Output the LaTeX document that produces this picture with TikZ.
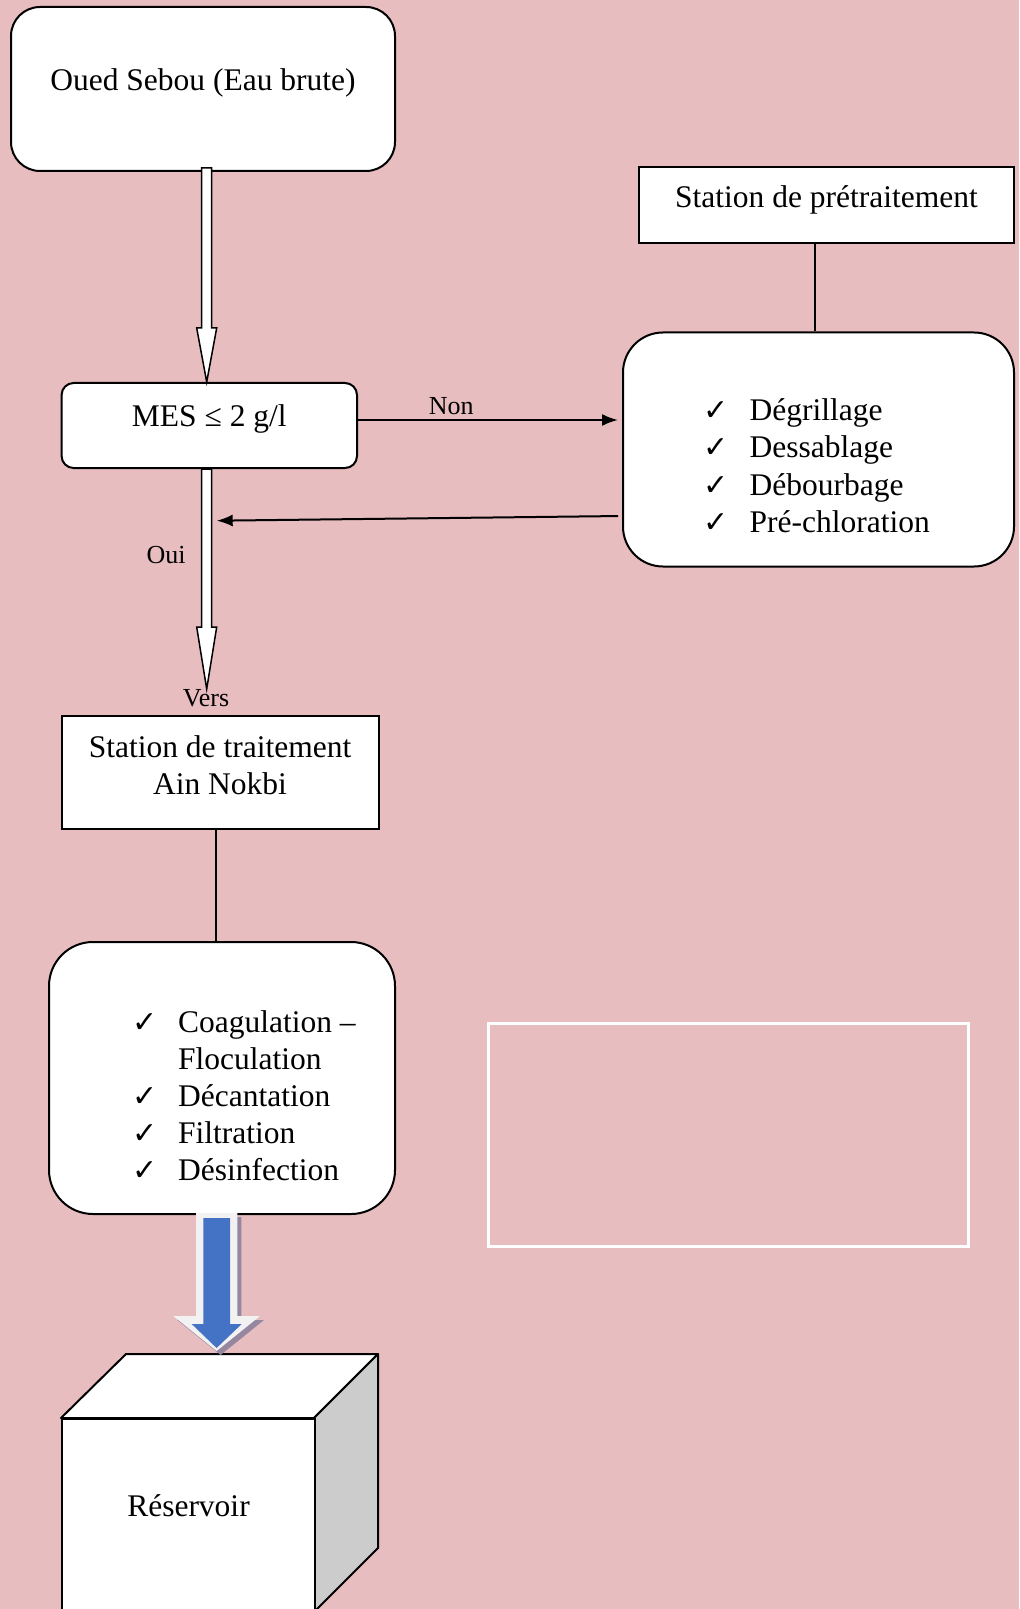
\documentclass[tikz,border=0pt]{standalone}
\usepackage{fontspec}
\setmainfont{Liberation Serif}
\newfontfamily\symfont{DejaVu Sans}
\usetikzlibrary{calc,arrows.meta}
\definecolor{bgpink}{RGB}{232,189,191}
\definecolor{arrowblue}{RGB}{68,114,196}
\definecolor{rimwhite}{RGB}{242,242,242}
\definecolor{shadowc}{RGB}{150,135,160}
\definecolor{sidegray}{RGB}{204,204,204}
\newcommand{\mainsz}{\fontsize{15.75}{18.5}\selectfont}
\newcommand{\smallsz}{\fontsize{13}{15}\selectfont}
\newcommand{\ck}{\makebox[23pt][l]{\symfont\fontsize{15}{15}\selectfont ✓}}
\newcommand{\nock}{\makebox[23pt][l]{}}
\newcommand{\hollowdown}[3]{%
  \path[hollow] let \p1=(#1), \p2=(#2) in
   (\x1-2.5pt,\y1) -- (\x1-2.5pt,\y2+#3) -- (\x1-5pt,\y2+#3) -- (\x1,\y2) --
   (\x1+5pt,\y2+#3) -- (\x1+2.5pt,\y2+#3) -- (\x1+2.5pt,\y1) -- cycle;}
\begin{document}
\begin{tikzpicture}[x=0.5pt,y=-0.5pt,
  every node/.style={font=\mainsz, text=black},
  box/.style={draw=black, fill=white, line width=1pt, inner sep=0pt},
  hollow/.style={draw=black, fill=white, line width=0.75pt, line join=miter},
  conn/.style={draw=black, line width=1pt},
  arr/.style={conn, -{Latex[length=8pt,width=6pt]}},
  smalllabel/.style={font=\smallsz, inner sep=0pt},
  listnode/.style={anchor=base west, inner sep=0pt},
  cubeline/.style={draw=black, line width=1pt, line join=round}]
\useasboundingbox (0,0) rectangle (1019,1609);
\fill[bgpink] (0,0) rectangle (1019,1609);
\clip (0,0) rectangle (1019,1609);

% empty frame
\draw[white, line width=1.5pt] (488.3,1023.3) rectangle (968.3,1246.7);

% helper x positions
\coordinate (ax) at (206.7,0);
\coordinate (lx) at (815,0);
\coordinate (sx) at (215.5,0);
\coordinate (bx) at (216.6,0);

% nodes
\node[box, rounded corners=14.5pt, minimum width=192pt, minimum height=82pt,
  label={[yshift=3pt]center:Oued Sebou (Eau brute)}] (oued) at (203,89) {};
\node[box, rounded corners=6pt, minimum width=147.7pt, minimum height=42.5pt,
  label={[yshift=3.5pt]center:MES ≤ 2 g/l}] (mes) at (209.3,425.5) {};
\node[box, minimum width=158.5pt, minimum height=56.5pt,
  label={[yshift=3.5pt, align=center]center:Station de traitement\\Ain Nokbi}] (st) at (220,772.5) {};
\node[box, rounded corners=22pt, minimum width=173pt, minimum height=136pt] (trt) at (222,1078) {};
\node[listnode] (trtlist) at (131.7,1032) {\begin{tabular}[t]{@{}l@{}}
\ck Coagulation –\\
\nock Floculation\\
\ck Décantation\\
\ck Filtration\\
\ck Désinfection
\end{tabular}};
\node[box, minimum width=187.5pt, minimum height=38pt,
  label={[yshift=2.5pt]center:Station de prétraitement}] (pre) at (826.5,205) {};
\node[box, rounded corners=20pt, minimum width=195.5pt, minimum height=117pt] (pbox) at (818.5,449.5) {};
\node[listnode] (plist) at (703.3,421) {\begin{tabular}[t]{@{}l@{}}
\ck Dégrillage\\
\ck Dessablage\\
\ck Débourbage\\
\ck Pré-chloration
\end{tabular}};

% connectors
\draw[conn] (pre.south -| lx) -- (pbox.north -| lx);
\draw[conn] (st.south -| sx) -- (trt.north -| sx);
\draw[arr, shorten >=2pt] (mes.east |- 0,420) -- (pbox.west |- 0,420)
  node[pos=0.353, smalllabel, yshift=7pt] (non) {Non};
\draw[arr, shorten <=2pt] (pbox.west |- 0,516) -- ($(ax)+(10,520.7)$);
\hollowdown{$(oued.south -| ax)+(0,-4)$}{mes.north -| ax}{27pt}
\hollowdown{mes.south -| ax}{$(st.north -| ax)+(0,-26)$}{31pt}
\node[smalllabel] (oui) at (166,555) {Oui};
\node[smalllabel] (vers) at (206,698) {Vers};

% cube (reservoir)
\filldraw[cubeline, fill=white] (126,1354) -- (378,1354) -- (314,1418) -- (61,1418) -- cycle;
\filldraw[cubeline, fill=sidegray] (314,1418) -- (378,1354) -- (378,1548) -- (314,1612) -- cycle;
\node[box, anchor=north west, minimum width=126.5pt, minimum height=97pt,
  label={[yshift=5pt]center:Réservoir}] (res) at (61,1418) {};

% blue block arrow
\begin{scope}[shift={(trt.south -| bx)}]
  \fill[shadowc] (-16.6,2) -- (24.7,2) -- (24.7,105) -- (47.4,105) -- (4,140) -- (-39.3,105) -- (-16.6,105) -- cycle;
  \fill[rimwhite] (-20.6,-2) -- (20.7,-2) -- (20.7,101) -- (43.4,101) -- (0,136) -- (-43.3,101) -- (-20.6,101) -- cycle;
  \fill[arrowblue] (-13.3,3) -- (13.4,3) -- (13.4,109) -- (25.1,109) -- (0,133) -- (-24.9,109) -- (-13.3,109) -- cycle;
\end{scope}
\end{tikzpicture}
\end{document}
